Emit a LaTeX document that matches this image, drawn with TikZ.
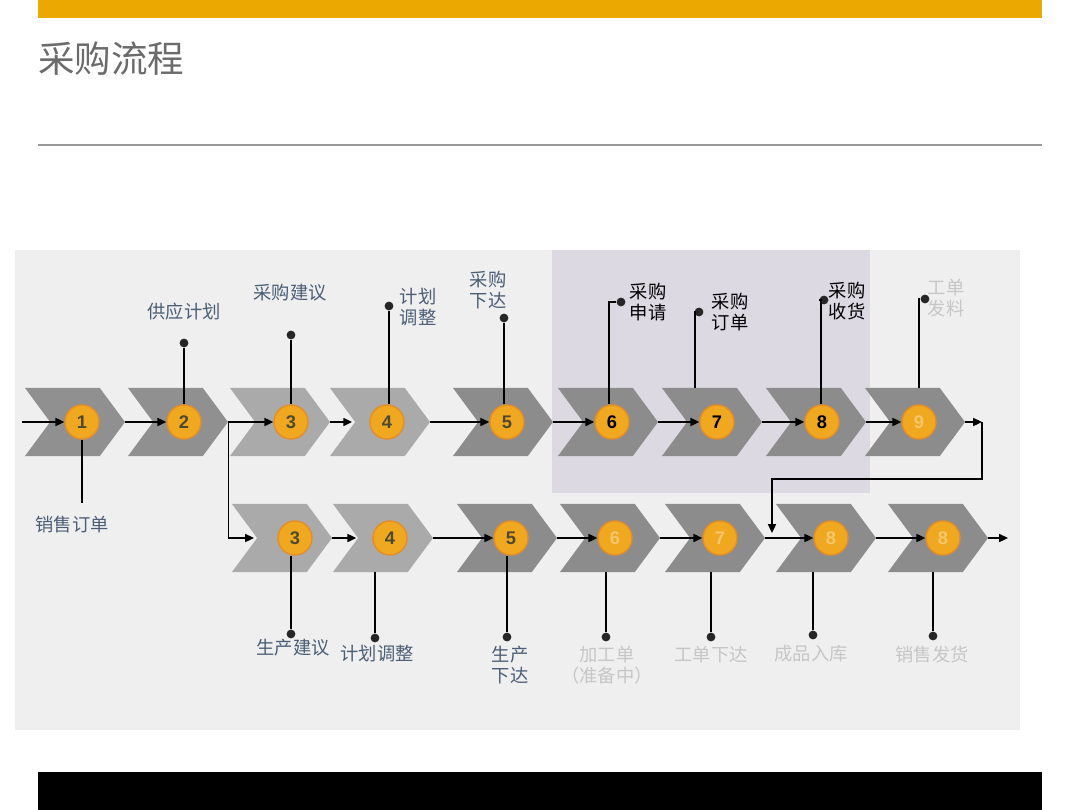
\documentclass[tikz,border=0pt]{standalone}
\usepackage{fontspec}
\usepackage{tikz}
\usetikzlibrary{positioning,arrows.meta,shapes.symbols,calc}
\newfontfamily\cjk{Noto Sans CJK SC}
\newfontfamily\numfont{Liberation Sans}
\definecolor{barorange}{HTML}{EBA800}
\definecolor{panelgray}{HTML}{EFEFF0}
\definecolor{hilite}{HTML}{DCD9E3}
\definecolor{chdark}{HTML}{8C8C8C}
\definecolor{chmid}{HTML}{909090}
\definecolor{chlight}{HTML}{AAAAAA}
\definecolor{orgfill}{HTML}{F0A820}
\definecolor{orgline}{HTML}{E58E25}
\definecolor{slate}{HTML}{4B5E75}
\definecolor{faded}{HTML}{C6C6C6}
\definecolor{numdark}{HTML}{4D4A30}
\definecolor{numfade}{HTML}{F5C66A}

\begin{document}
\begin{tikzpicture}[x=0.025cm,y=-0.025cm,
  chev/.style={signal,signal to=east,signal from=west,signal pointer angle=107,
    minimum width=2.5cm,minimum height=1.7cm,inner sep=0pt,draw=none},
  num/.style={circle,fill=orgfill,draw=orgline,line width=1pt,minimum size=0.85cm,
    inner sep=0pt,font=\numfont\bfseries\fontsize{13}{15}\selectfont,text=numdark},
  pin/.style={circle,fill=black!85,minimum size=0.22cm,inner sep=0pt},
  lab/.style={font=\cjk\fontsize{13}{15}\selectfont,align=center,text=slate},
  ar/.style={-{Triangle[length=2.2mm,width=2mm]},line width=1.1pt},
  ln/.style={line width=1.1pt}]
\useasboundingbox (0,0) rectangle (1080,810);
% frame of the slide
\fill[barorange] (38,0) rectangle (1042,18);
\node[anchor=west,inner sep=0pt,text=black!58,font=\cjk\fontsize{26}{30}\selectfont] (title) at (38,59) {采购流程};
\draw[black!40,line width=0.8pt] (38,145) -- (1042,145);
\fill[black] (38,772) rectangle (1042,810);
\fill[panelgray] (15,250) rectangle (1020,730);
\fill[hilite] (552,250) rectangle (870,493);

% upper row
\node[chev,fill=chmid] (ch1) at (75,422) {};
\node[chev,fill=chmid] (ch2) at (178,422) {};
\node[chev,fill=chlight] (ch3) at (280,422) {};
\node[chev,fill=chlight] (ch4) at (380,422) {};
\node[chev,fill=chdark] (ch5) at (503,422) {};
\node[chev,fill=chdark] (ch6) at (608,422) {};
\node[chev,fill=chdark] (ch7) at (712,422) {};
\node[chev,fill=chdark] (ch8) at (816,422) {};
\node[chev,fill=chdark] (ch9) at (915,422) {};
\node[num] (n1) at (82,422) {1};
\node[num] (n2) at (184,422) {2};
\node[num] (n3) at (291,422) {3};
\node[num] (n4) at (387,422) {4};
\node[num] (n5) at (507,422) {5};
\node[num,text=black] (n6) at (612,422) {6};
\node[num,text=black] (n7) at (717,422) {7};
\node[num,text=black] (n8) at (822,422) {8};
\node[num,text=numfade] (n9) at (919,422) {9};

% lower row
\node[chev,fill=chlight] (cb3) at (282,538) {};
\node[chev,fill=chlight] (cb4) at (383,538) {};
\node[chev,fill=chdark] (cb5) at (507,538) {};
\node[chev,fill=chdark] (cb6) at (610,538) {};
\node[chev,fill=chdark] (cb7) at (715,538) {};
\node[chev,fill=chdark] (cb8) at (826,538) {};
\node[chev,fill=chdark] (cb9) at (938,538) {};
\node[num] (nb3) at (295,538) {3};
\node[num] (nb4) at (390,538) {4};
\node[num] (nb5) at (511,538) {5};
\node[num,text=numfade] (nb6) at (615,538) {6};
\node[num,text=numfade] (nb7) at (720,538) {7};
\node[num,text=numfade] (nb8) at (831,538) {8};
\node[num,text=numfade] (nb9) at (943,538) {8};

% flow arrows
\coordinate (in) at (22,422);
\coordinate (r1) at (982,422);
\coordinate (r2) at (982,479);
\coordinate (r4) at (772,533);
\coordinate (b3in) at (254,538);
\coordinate (out) at (1008,538);
\draw[ar] (in) -- (n1);
\draw[ar] (ch1.east) -- (n2);
\draw[ar] (ch2.east) -- (n3);
\draw[ar] (ch2.east) |- (b3in);
\draw[ar] (ch3.east) -- ([xshift=-0.43cm]n4.west);
\draw[ar] (ch4.east) -- (n5);
\draw[ar] (ch5.east) -- (n6);
\draw[ar] (ch6.east) -- (n7);
\draw[ar] (ch7.east) -- (n8);
\draw[ar] (ch8.east) -- (n9);
\draw[ar] (ch9.east) -- (r1);
\draw[ar] (r1) -- (r2) -| (r4);
\draw[ar] (cb3.east) -- ([xshift=-0.4cm]nb4.west);
\draw[ar] (cb4.east) -- (nb5);
\draw[ar] (cb5.east) -- (nb6);
\draw[ar] (cb6.east) -- (nb7);
\draw[ar] (cb7.east) -- (nb8);
\draw[ar] (cb8.east) -- (nb9);
\draw[ar] (cb9.east) -- (out);

% pins above
\coordinate (p1) at (82,503);
\node[pin] (d2) at (184,343) {};
\node[pin] (d3) at (291,335) {};
\node[pin] (d4) at (389,306) {};
\node[pin] (d5) at (504,318) {};
\node[pin] (d6) at (621,302) {};
\node[pin] (d7) at (699,312) {};
\node[pin] (d8) at (824,300) {};
\node[pin] (d9) at (925,299) {};
\draw[ln] (n1) -- (p1);
\draw[ln] (d2) -- (d2 |- n2.north);
\draw[ln] (d3) -- (d3 |- n3.north);
\draw[ln] (d4) -- (d4 |- n4.north);
\draw[ln] (d5) -- (d5 |- n5.north);
\draw[ln] (d6) -- ++(-12,0) coordinate (k6) -- (k6 |- n6.north);
\draw[ln] (d7) -- ++(-4,0) coordinate (k7) -- (k7 |- ch7.north);
\draw[ln] (d8) -- ++(-3,0) coordinate (k8) -- (k8 |- n8.north);
\draw[ln] (d9) -- ++(-6,0) coordinate (k9) -- (k9 |- ch9.north);

% pins below
\node[pin] (e3) at (291,634) {};
\node[pin] (e4) at (375,638) {};
\node[pin] (e5) at (507,637) {};
\node[pin] (e6) at (606,637) {};
\node[pin] (e7) at (711,637) {};
\node[pin] (e8) at (813,635) {};
\node[pin] (e9) at (933,636) {};
\draw[ln] (e3) -- (e3 |- nb3.south);
\draw[ln] (e4) -- (e4 |- cb4.south);
\draw[ln] (e5) -- (e5 |- nb5.south);
\draw[ln] (e6) -- (e6 |- cb6.south);
\draw[ln] (e7) -- (e7 |- cb7.south);
\draw[ln] (e8) -- (e8 |- cb8.south);
\draw[ln] (e9) -- (e9 |- cb9.south);

% labels
\node[lab] (l1) at (72,525) {销售订单};
\node[lab] (l2) at (184,312) {供应计划};
\node[lab] (l3) at (290,293) {采购建议};
\node[lab] (l4) at (418,307) {计划\\调整};
\node[lab] (l5) at (488,290) {采购\\下达};
\node[lab,text=black] (l6) at (648,302) {采购\\申请};
\node[lab,text=black] (l7) at (730,312) {采购\\订单};
\node[lab,text=black] (l8) at (847,301) {采购\\收货};
\node[lab,text=faded] (l9) at (946,298) {工单\\发料};
\node[lab] (m3) at (293,648) {生产建议};
\node[lab] (m4) at (377,654) {计划调整};
\node[lab] (m5) at (510,665) {生产\\下达};
\node[lab,text=faded] (m6) at (607,665) {加工单\\（准备中）};
\node[lab,text=faded] (m7) at (711,655) {工单下达};
\node[lab,text=faded] (m8) at (811,654) {成品入库};
\node[lab,text=faded] (m9) at (932,655) {销售发货};
\end{tikzpicture}
\end{document}
